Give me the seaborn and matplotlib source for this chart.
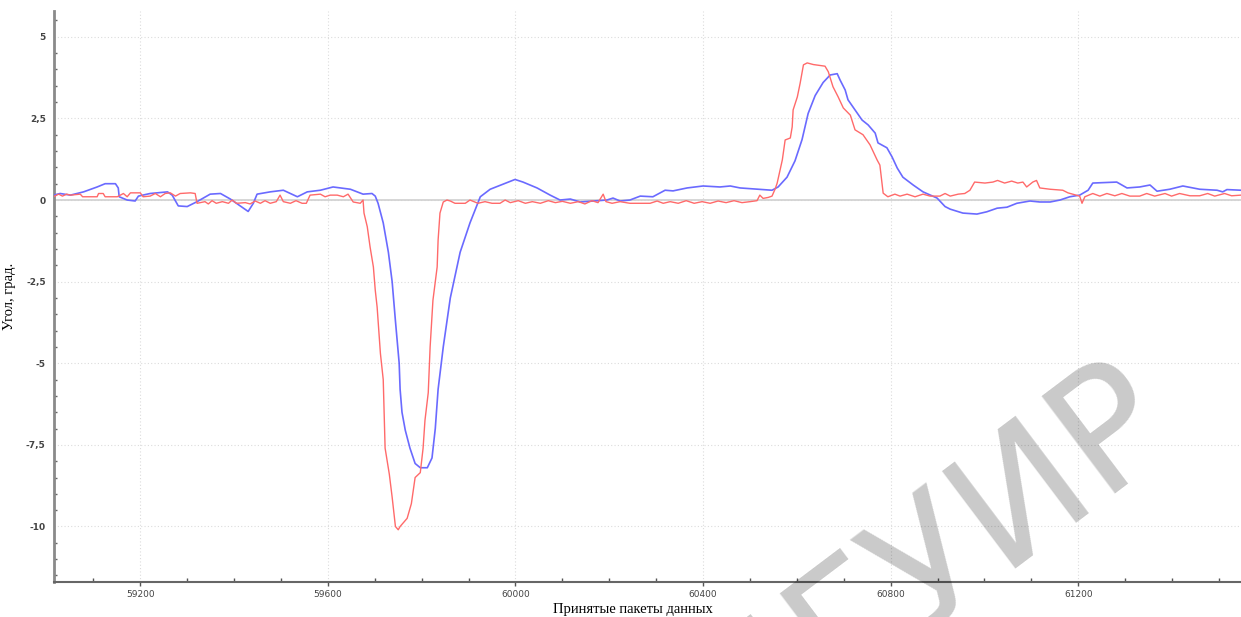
import matplotlib
matplotlib.use("Agg")
import matplotlib.pyplot as plt
import matplotlib.ticker as mticker
import seaborn as sns
import pandas as pd

# ---- data ----
packets_blue = [59015, 59029, 59051, 59079, 59108, 59125, 59147, 59153, 59155, 59172,
                59189, 59196, 59221, 59258, 59268, 59281, 59300, 59321, 59349, 59371,
                59392, 59413, 59430, 59441, 59449, 59477, 59505, 59535, 59556, 59584,
                59611, 59648, 59675, 59694, 59701, 59707, 59718, 59729, 59737, 59744,
                59752, 59754, 59758, 59765, 59775, 59786, 59797, 59812, 59822, 59829,
                59835, 59846, 59861, 59882, 59903, 59925, 59946, 59967, 59999, 60016,
                60046, 60074, 60095, 60117, 60138, 60166, 60195, 60208, 60223, 60244,
                60266, 60293, 60319, 60336, 60366, 60400, 60436, 60458, 60479, 60507,
                60547, 60560, 60579, 60596, 60611, 60624, 60639, 60656, 60671, 60686,
                60692, 60703, 60709, 60724, 60739, 60752, 60767, 60773, 60792, 60803,
                60814, 60826, 60848, 60869, 60899, 60916, 60927, 60954, 60984, 61005,
                61027, 61048, 61069, 61097, 61118, 61140, 61161, 61182, 61203, 61221,
                61231, 61282, 61304, 61331, 61353, 61368, 61395, 61423, 61459, 61496,
                61508, 61517, 61547]
angle_blue = [0.15, 0.2, 0.15, 0.25, 0.4, 0.5, 0.5, 0.37, 0.1, 0.0,
              -0.03, 0.12, 0.2, 0.25, 0.15, -0.18, -0.2, -0.05, 0.18, 0.2,
              0.03, -0.18, -0.35, -0.1, 0.18, 0.25, 0.3, 0.1, 0.25, 0.3,
              0.4, 0.33, 0.18, 0.2, 0.12, -0.1, -0.7, -1.6, -2.5, -3.7,
              -5.0, -5.8, -6.5, -7.05, -7.6, -8.07, -8.2, -8.2, -7.9, -7.0,
              -5.8, -4.5, -3.0, -1.6, -0.7, 0.1, 0.33, 0.45, 0.63, 0.55,
              0.37, 0.15, 0.0, 0.03, -0.06, -0.03, 0.0, 0.06, -0.03, 0.0,
              0.12, 0.1, 0.3, 0.28, 0.37, 0.43, 0.4, 0.43, 0.37, 0.34,
              0.3, 0.4, 0.7, 1.2, 1.85, 2.65, 3.2, 3.6, 3.83, 3.87,
              3.68, 3.37, 3.07, 2.76, 2.45, 2.3, 2.05, 1.75, 1.6, 1.32,
              0.98, 0.7, 0.46, 0.25, 0.06, -0.2, -0.28, -0.4, -0.43, -0.36,
              -0.25, -0.22, -0.1, -0.03, -0.06, -0.06, 0.0, 0.1, 0.15, 0.3,
              0.52, 0.55, 0.37, 0.4, 0.46, 0.27, 0.33, 0.43, 0.33, 0.3,
              0.25, 0.32, 0.3]

packets_red = [59015, 59026, 59034, 59043, 59051, 59072, 59077, 59108, 59111, 59121,
               59125, 59151, 59164, 59172, 59179, 59200, 59206, 59221, 59232, 59243,
               59253, 59264, 59275, 59285, 59307, 59317, 59321, 59338, 59345, 59353,
               59362, 59375, 59388, 59396, 59405, 59424, 59434, 59445, 59456, 59466,
               59477, 59490, 59498, 59505, 59520, 59532, 59545, 59554, 59562, 59584,
               59594, 59605, 59620, 59633, 59643, 59654, 59669, 59675, 59677, 59684,
               59690, 59697, 59701, 59705, 59712, 59718, 59722, 59731, 59737, 59744,
               59750, 59754, 59769, 59778, 59786, 59797, 59803, 59807, 59814, 59818,
               59824, 59833, 59835, 59839, 59846, 59854, 59861, 59871, 59893, 59903,
               59920, 59935, 59950, 59967, 59978, 59989, 60006, 60021, 60036, 60053,
               60070, 60085, 60100, 60117, 60134, 60148, 60163, 60176, 60187, 60193,
               60206, 60223, 60244, 60266, 60287, 60302, 60315, 60330, 60347, 60364,
               60381, 60398, 60415, 60432, 60449, 60466, 60483, 60500, 60515, 60521,
               60528, 60539, 60547, 60554, 60558, 60569, 60575, 60586, 60590, 60592,
               60601, 60607, 60614, 60622, 60635, 60660, 60667, 60677, 60688, 60699,
               60714, 60724, 60741, 60756, 60771, 60777, 60784, 60794, 60809, 60820,
               60835, 60852, 60869, 60884, 60905, 60916, 60927, 60944, 60958, 60969,
               60979, 61001, 61018, 61028, 61043, 61058, 61071, 61082, 61090, 61103,
               61111, 61118, 61140, 61167, 61178, 61203, 61208, 61214, 61231, 61246,
               61261, 61278, 61293, 61310, 61331, 61346, 61363, 61385, 61399, 61416,
               61438, 61459, 61476, 61491, 61512, 61527, 61547]
angle_red = [0.1, 0.18, 0.12, 0.18, 0.15, 0.18, 0.1, 0.1, 0.2, 0.2,
             0.1, 0.1, 0.2, 0.1, 0.22, 0.22, 0.1, 0.12, 0.2, 0.1,
             0.2, 0.22, 0.12, 0.2, 0.22, 0.2, -0.1, -0.05, -0.12, -0.02,
             -0.1, -0.05, -0.1, 0.0, -0.1, -0.08, -0.12, -0.03, -0.1, -0.02,
             -0.1, -0.05, 0.15, -0.05, -0.1, -0.02, -0.1, -0.1, 0.15, 0.18,
             0.1, 0.15, 0.15, 0.1, 0.18, -0.06, -0.1, 0.0, -0.4, -0.82,
             -1.44, -2.05, -2.76, -3.28, -4.7, -5.5, -7.6, -8.4, -9.1, -10.0,
             -10.1, -10.0, -9.75, -9.3, -8.5, -8.35, -7.6, -6.75, -5.9, -4.5,
             -3.07, -2.05, -1.23, -0.4, -0.06, 0.0, -0.03, -0.1, -0.1, 0.0,
             -0.1, -0.05, -0.1, -0.1, 0.0, -0.08, -0.02, -0.1, -0.05, -0.1,
             -0.02, -0.08, -0.04, -0.1, -0.05, -0.12, -0.02, -0.08, 0.18, -0.05,
             -0.1, -0.05, -0.1, -0.1, -0.1, -0.03, -0.1, -0.05, -0.1, -0.02,
             -0.1, -0.05, -0.1, -0.03, -0.08, -0.02, -0.08, -0.05, -0.02, 0.15,
             0.05, 0.08, 0.12, 0.35, 0.52, 1.23, 1.84, 1.9, 2.24, 2.76,
             3.16, 3.58, 4.14, 4.2, 4.15, 4.1, 3.93, 3.47, 3.16, 2.82,
             2.6, 2.15, 2.0, 1.69, 1.23, 1.07, 0.21, 0.1, 0.18, 0.12,
             0.18, 0.1, 0.18, 0.12, 0.12, 0.2, 0.12, 0.18, 0.2, 0.3,
             0.55, 0.52, 0.55, 0.6, 0.52, 0.58, 0.52, 0.55, 0.4, 0.55,
             0.6, 0.37, 0.33, 0.3, 0.22, 0.12, -0.1, 0.1, 0.2, 0.12,
             0.2, 0.13, 0.2, 0.12, 0.12, 0.2, 0.12, 0.2, 0.12, 0.2,
             0.13, 0.13, 0.2, 0.12, 0.2, 0.13, 0.15]

y_ticks = [-10, -7.5, -5, -2.5, 0, 2.5, 5]
x_ticks = [59200, 59600, 60000, 60400, 60800, 61200]
x_label = "Принятые пакеты данных"
y_label = "Угол, град."
watermark = "БГУИР"

df_blue = pd.DataFrame({"packet": packets_blue, "angle": angle_blue})
df_red = pd.DataFrame({"packet": packets_red, "angle": angle_red})

sns.set_theme(style="white")
plt.rcParams["font.family"] = ["DejaVu Sans"]

fig = plt.figure(figsize=(12.41, 6.17), dpi=100)
ax = fig.add_axes([54 / 1241, 35 / 617, 1 - 54 / 1241, (582 - 11) / 617])

sns.lineplot(data=df_blue, x="packet", y="angle", ax=ax, color="#6a6aff",
             linewidth=1.2, estimator=None, sort=False, zorder=3)
sns.lineplot(data=df_red, x="packet", y="angle", ax=ax, color="#ff6a6a",
             linewidth=1.0, estimator=None, sort=False, zorder=4)

ax.set_xlim(59016, 61547)
ax.set_ylim(-11.7, 5.79)

ax.set_xticks(x_ticks)
ax.set_yticks(y_ticks)
ax.xaxis.set_minor_locator(mticker.MultipleLocator(100))
ax.yaxis.set_minor_locator(mticker.MultipleLocator(0.5))


def fmt(v, pos):
    s = ("%g" % v)
    return s.replace(".", ",")


ax.yaxis.set_major_formatter(mticker.FuncFormatter(fmt))
ax.xaxis.set_major_formatter(mticker.FuncFormatter(lambda v, p: "%d" % v))

ax.grid(False, which="minor")
ax.grid(True, which="major", linestyle=(0, (1, 2)), color="#dcdcdc", linewidth=0.8)
ax.axhline(0, color="#d0d0d0", linewidth=1.2, zorder=2)

for s in ["top", "right"]:
    ax.spines[s].set_visible(False)
ax.spines["left"].set_color("#8a8a8a")
ax.spines["left"].set_linewidth(2.0)
ax.spines["bottom"].set_color("#666666")
ax.spines["bottom"].set_linewidth(1.5)

ax.tick_params(axis="y", which="major", direction="in", length=4, width=1,
               color="#666666", labelsize=6.5, labelcolor="#444444", pad=6)
ax.tick_params(axis="y", which="minor", direction="in", length=2, width=1,
               color="#666666", left=True)
ax.tick_params(axis="x", which="major", direction="out", length=3, width=1,
               color="#555555", labelsize=6.5, labelcolor="#444444", pad=3, bottom=True)
ax.tick_params(axis="x", which="minor", direction="in", length=3, width=1,
               color="#555555", bottom=True)
for lab in ax.get_yticklabels():
    lab.set_fontweight("bold")

ax.set_xlabel(x_label, family=["Liberation Serif"], fontsize=10.5, color="black")
ax.set_ylabel(y_label, family=["Liberation Serif"], fontsize=10.5, color="black")
ax.xaxis.set_label_coords(0.488, -0.036)
ax.yaxis.set_label_coords(-0.032, 0.5)

fig.text(1180 / 1241, 1 - 432 / 617, watermark, fontsize=120, color="black", alpha=0.21,
         rotation=37, rotation_mode="anchor", ha="right", va="baseline",
         family=["DejaVu Sans"], zorder=10)

fig.savefig("out.png", dpi=100, facecolor="white")
